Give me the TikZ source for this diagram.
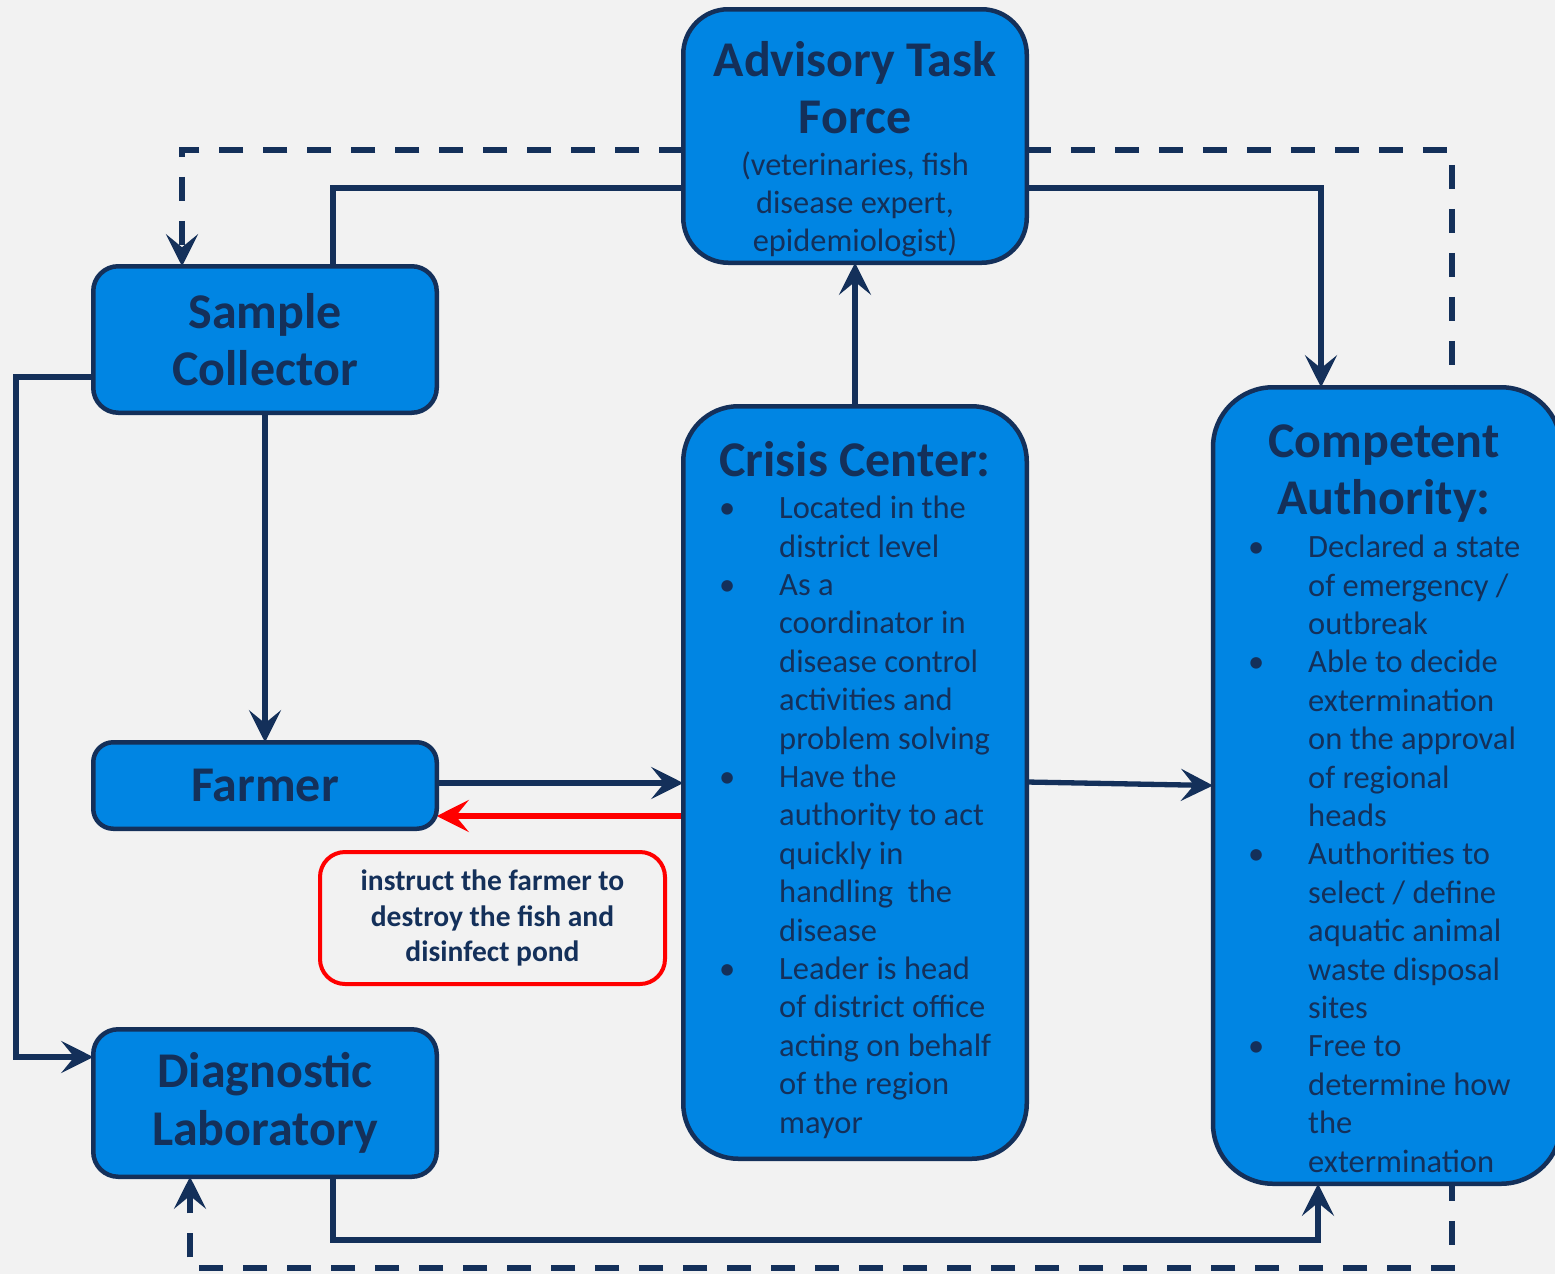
\documentclass[tikz,border=0pt]{standalone}
\usepackage{fontspec}
\setmainfont{Carlito}
\usetikzlibrary{arrows.meta}
\definecolor{navy}{HTML}{14305A}
\definecolor{boxblue}{HTML}{0085E3}
\definecolor{bgc}{HTML}{F2F2F2}
\pgfdeclarelayer{bg}
\pgfdeclarelayer{paper}
\pgfsetlayers{paper,bg,main}
\newcommand\bul{\makebox[60pt][l]{\textbullet}}
\newcommand\ind{\hspace*{60pt}}
\begin{document}
\begin{tikzpicture}[x=1pt,y=-1pt,
  box/.style={draw=navy, line width=4.5pt, fill=boxblue, inner sep=0pt, outer sep=0pt, text=navy, align=center, font=\fontsize{50}{57.5}\selectfont\bfseries},
  title/.style={text=navy, font=\fontsize{50}{57}\selectfont\bfseries, align=center, anchor=base, inner sep=0pt},
  body/.style={text=navy, font=\fontsize{32.5}{38.4}\selectfont, align=left, anchor=base west, inner sep=0pt},
  sub/.style={text=navy, font=\fontsize{32.4}{38}\selectfont, align=center, anchor=base, inner sep=0pt},
  conn/.style={draw=navy, line width=5.3pt},
  arr/.style={-{Stealth[length=32pt,width=32pt,inset=13pt]}},
  dconn/.style={conn, line width=5.8pt, dash pattern=on 24pt off 20pt},
]
\begin{pgfonlayer}{paper}
\fill[bgc] (0,0) rectangle (1555,1274);
\end{pgfonlayer}
\useasboundingbox (0,0) rectangle (1555,1274);

% boxes
\node[box, rounded corners=45pt, minimum width=343.5pt, minimum height=253.5pt] (atf) at (855,136) {};
\node[box, rounded corners=25pt, minimum width=343.5pt, minimum height=146.5pt] (sc) at (265,339.5) {Sample\\Collector};
\node[box, rounded corners=20pt, minimum width=343.5pt, minimum height=86.5pt] (fa) at (265,785.5) {Farmer};
\node[box, rounded corners=25pt, minimum width=343.5pt, minimum height=147.5pt] (dl) at (265,1103) {Diagnostic\\Laboratory};
\node[box, rounded corners=55pt, minimum width=343.5pt, minimum height=752.5pt] (cc) at (855,782.5) {};
\node[box, rounded corners=60pt, minimum width=348pt, minimum height=796.5pt] (ca) at (1387,785.5) {};
\node[draw=red, line width=4pt, rounded corners=25pt, minimum width=345pt, minimum height=132pt, inner sep=0pt, outer sep=0pt, text=navy, align=center, font=\fontsize{29.5}{35.5}\selectfont\bfseries] (rb) at (492.5,918) {instruct the farmer to\\destroy the fish and\\disinfect pond};

% texts (base anchor = baseline of the last line)
\node[title] (atft) at (855,133) {Advisory Task\\Force};
\node[sub] (atfs) at (855,251) {(veterinaries, fish\\disease expert,\\epidemiologist)};
\node[title] (cct) at (855,476) {Crisis Center:};
\node[body] (ccb) at (719,1133) {\bul Located in the\\ \ind district level\\
\bul As a\\ \ind coordinator in\\ \ind disease control\\ \ind activities and\\ \ind problem solving\\
\bul Have the\\ \ind authority to act\\ \ind quickly in\\ \ind handling~ the\\ \ind disease\\
\bul Leader is head\\ \ind of district office\\ \ind acting on behalf\\ \ind of the region\\ \ind mayor};
\node[title] (cat) at (1384,514) {Competent\\Authority:};
\node[body] (cab) at (1248,1172) {\bul Declared a state\\ \ind of emergency /\\ \ind outbreak\\
\bul Able to decide\\ \ind extermination\\ \ind on the approval\\ \ind of regional\\ \ind heads\\
\bul Authorities to\\ \ind select / define\\ \ind aquatic animal\\ \ind waste disposal\\ \ind sites\\
\bul Free to\\ \ind determine how\\ \ind the\\ \ind extermination};

\coordinate (dc) at (1452,1268);
\coordinate (lc) at (16,1057);
\coordinate (bc) at (1318,1240);

\begin{pgfonlayer}{bg}
\draw[dconn, arr] ([yshift=-14pt]atf.west) -| ([xshift=-83pt]sc.north);
\draw[conn] ([yshift=-52pt]atf.west) -| ([xshift=68pt]sc.north);
\draw[conn, arr] ([yshift=-52pt]atf.east) -| ([xshift=-66pt]ca.north);
\draw[dconn, arr] ([yshift=-14pt]atf.east) -| (dc) -| ([xshift=-75pt]dl.south);
\draw[conn, arr] (cc.north) -- (atf.south);
\draw[conn, arr] (sc.south) -- (fa.north);
\draw[conn, arr] ([yshift=-37.5pt]sc.west) -| (lc) -- ([yshift=46pt]dl.west);
\draw[conn, arr] ([yshift=2.5pt]fa.east) -- ([yshift=2.5pt]fa.east -| cc.west);
\draw[conn, draw=red, arr] ([yshift=-30.5pt]fa.east -| cc.west) -- ([yshift=-30.5pt]fa.east);
\draw[conn, arr] ([yshift=0.5pt]cc.east) -- (ca.west);
\draw[conn, arr] ([xshift=68pt]dl.south) |- (bc) -- ([xshift=-69pt]ca.south);
\end{pgfonlayer}
\end{tikzpicture}
\end{document}
